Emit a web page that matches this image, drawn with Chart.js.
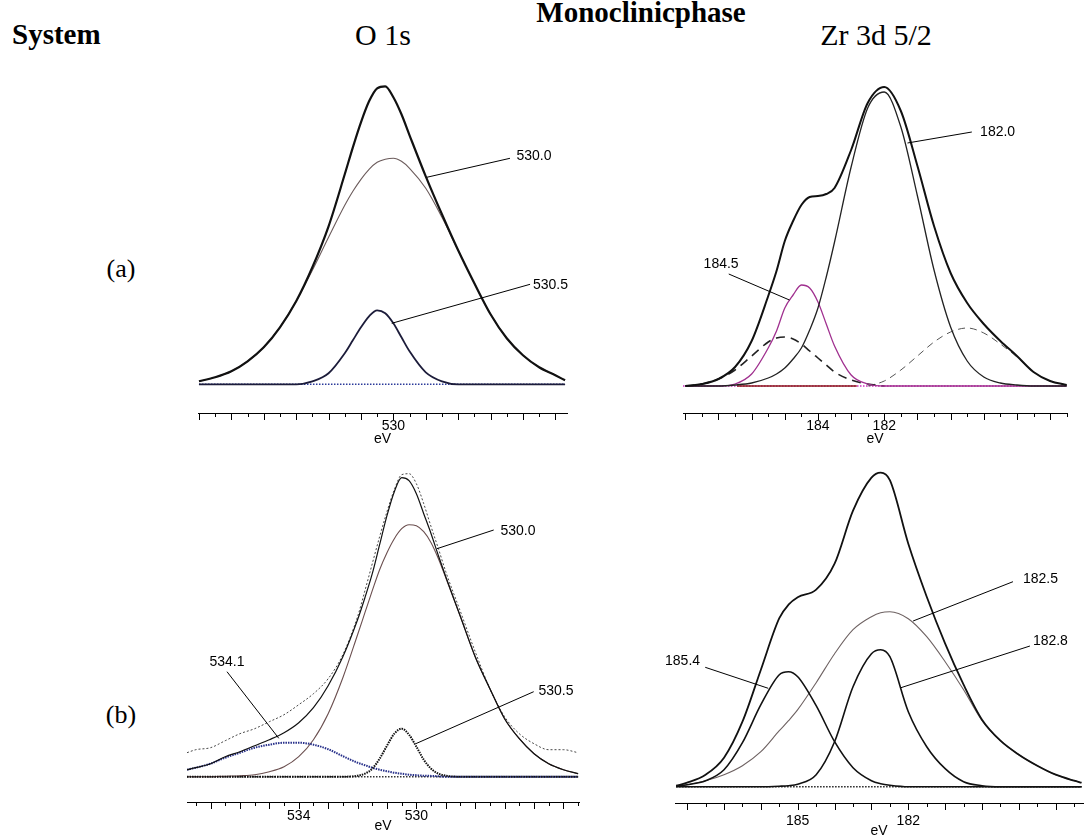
<!DOCTYPE html>
<html>
<head>
<meta charset="utf-8">
<title>XPS O 1s and Zr 3d 5/2 - monoclinic phase</title>
<script src="https://cdn.jsdelivr.net/npm/chart.js@4.4.1/dist/chart.umd.min.js"></script>
<style>
  html, body { margin: 0; padding: 0; background: #fff; overflow: hidden; }
  body { width: 1086px; height: 837px; position: relative; font-family: "Liberation Serif", "Times New Roman", serif; color: #000; }
  .lbl { position: absolute; white-space: nowrap; line-height: 1; }
  .bold { font-weight: bold; }
  .mid { transform: translateX(-50%); }
  canvas { position: absolute; }
</style>
</head>
<body>
<div class="lbl bold mid" style="left:641px; top:-2px; font-size:29px;">Monoclinicphase</div>
<div class="lbl bold" style="left:12px; top:20px; font-size:29px;">System</div>
<div class="lbl mid" style="left:383px; top:20px; font-size:30px;">O 1s</div>
<div class="lbl mid" style="left:876px; top:20px; font-size:30px;">Zr 3d 5/2</div>
<div class="lbl mid" style="left:121px; top:256px; font-size:26px;">(a)</div>
<div class="lbl mid" style="left:121px; top:702px; font-size:26px;">(b)</div>

<canvas id="o1sA" width="405" height="383" style="left:185px; top:70px;"></canvas>
<canvas id="zrA" width="410" height="383" style="left:670px; top:70px;"></canvas>
<canvas id="o1sB" width="410" height="388" style="left:180px; top:450px;"></canvas>
<canvas id="zrB" width="436" height="390" style="left:650px; top:450px;"></canvas>

<script>
// ---- (a) O 1s ----
const o1sAEnergy = [536.0, 535.5, 535.0, 534.5, 534.0, 533.5, 533.0, 532.5, 532.0, 531.5, 531.25, 531.0, 530.75, 530.5, 530.25, 530.0, 529.75, 529.5, 529.0, 528.5, 528.0, 527.5, 527.0, 526.5, 526.0, 525.5, 525.0, 524.7];
const o1sATotal    = [3, 7, 13, 23, 37, 57, 83, 117, 158, 210, 237, 262, 283, 296, 298, 287, 270, 249, 208, 170, 134, 101, 70, 46, 29, 17, 9, 4];
const o1sA5300     = [3, 7, 13, 23, 37, 57, 83, 114, 147, 179, 193, 205, 215, 222, 225, 226, 223, 216, 196, 167, 134, 101, 70, 46, 29, 17, 9, 4];
const o1sA5305     = [0, 0, 0, 0, 0, 0, 0, 3, 11, 31, 44, 57, 68, 74, 71, 61, 47, 33, 12, 3, 0, 0, 0, 0, 0, 0, 0, 0];
const o1sABaseE = [536.0, 524.7];
const o1sABase = [0, 0];
const o1sATicks = [536, 535.5, 535, 534.5, 534, 533.5, 533, 532.5, 532, 531.5, 531, 530.5, 530, 529.5, 529, 528.5, 528, 527.5, 527, 526.5, 526, 525.5, 525];
const o1sATickLabels = [530];

// ---- (a) Zr 3d 5/2 ----
const zrAEnergy = [188.0, 187.5, 187.0, 186.5, 186.0, 185.5, 185.25, 185.0, 184.75, 184.5, 184.25, 184.0, 183.75, 183.5, 183.0, 182.5, 182.0, 181.5, 181.0, 180.5, 180.0, 179.5, 179.0, 178.5, 178.0, 177.5, 177.0, 176.5];
const zrATotal = [0, 2, 7, 19, 45, 90, 115, 145, 165, 181, 189, 190, 192, 198, 236, 283, 299, 275, 220, 160, 113, 83, 62, 45, 30, 14, 5, 1];
const zrA1820  = [0, 0, 0, 1, 3, 8, 12, 18, 27, 38, 56, 78, 109, 144, 219, 278, 294, 259, 190, 116, 59, 25, 9, 3, 1, 0, 0, 0];
const zrA1845  = [0, 0, 0, 2, 12, 38, 55, 78, 91, 101, 98, 84, 62, 40, 11, 2, 0, 0, 0, 0, 0, 0, 0, 0, 0, 0, 0, 0];
const zrAHigh  = [0, 2, 7, 16, 30, 44, 48, 49, 47, 42, 35, 28, 21, 14, 6, 2, 0, null, null, null, null, null, null, null, null, null, null, null];
const zrALow   = [null, null, null, null, null, null, null, null, null, null, null, null, null, null, null, 0, 5, 16, 30, 44, 54, 58, 53, 42, 29, 14, 5, 1];
const zrABaseE = [188.07, 176.5];
const zrABase = [0, 0];
const zrABgE = [186.44, 182.83];
const zrABg = [0, 0];
const zrATicks = [188, 187.5, 187, 186.5, 186, 185.5, 185, 184.5, 184, 183.5, 183, 182.5, 182, 181.5, 181, 180.5, 180, 179.5, 179, 178.5, 178, 177.5, 177, 176.5];
const zrATickLabels = [184, 182];

// ---- (b) O 1s ----
const o1sBEnergy = [537.8, 537.5, 537.0, 536.5, 536.0, 535.5, 535.0, 534.5, 534.0, 533.5, 533.0, 532.5, 532.0, 531.75, 531.5, 531.25, 531.0, 530.75, 530.5, 530.25, 530.0, 529.75, 529.5, 529.25, 529.0, 528.5, 528.0, 527.5, 527.0, 526.5, 526.0, 525.5, 525.0, 524.5];
const o1sBRaw      = [24, 27, 29, 36, 43, 48, 55, 62, 72, 83, 98, 122, 160, 186, 213, 240, 265, 287, 302, 303, 293, 273, 250, 228, 205, 165, 125, 88, 60, 43, 33, 27, 27, 24];
const o1sBEnvelope = [7, 9, 13, 20, 25, 31, 37, 44, 54, 69, 91, 120, 157, 179, 203, 232, 261, 285, 299, 296, 283, 263, 243, 221, 200, 160, 120, 88, 58, 38, 23, 13, 7, 3];
const o1sB5300     = [0, 0, 0, 0.5, 1, 2, 5, 10, 20, 37, 63, 99, 142, 164, 186, 207, 224, 238, 248, 252, 251, 245, 234, 218, 199, 160, 120, 88, 58, 38, 23, 13, 7, 3];
const o1sB5341     = [7, 9, 13, 19, 24, 29, 32, 34, 34, 32, 27.5, 20.5, 14, 11.5, 9, 7, 5.5, 4, 3, 2, 1.5, 1, 0.8, 0.4, 0, 0, 0, 0, 0, 0, 0, 0, 0, 0];
const o1sB5305     = [0, 0, 0, 0, 0, 0, 0, 0, 0, 0, 0, 0, 1, 3, 8, 18, 31, 43, 48, 42, 30, 17, 8, 3, 1, 0, 0, 0, 0, 0, 0, 0, 0, 0];
const o1sBBaseE = [537.8, 524.5];
const o1sBBase = [0, 0];
const o1sBTicks = [537.5, 537, 536.5, 536, 535.5, 535, 534.5, 534, 533.5, 533, 532.5, 532, 531.5, 531, 530.5, 530, 529.5, 529, 528.5, 528, 527.5, 527, 526.5, 526, 525.5, 525, 524.5];
const o1sBTickLabels = [534, 530];

// ---- (b) Zr 3d 5/2 ----
const zrBEnergy = [188.3, 188.0, 187.5, 187.0, 186.5, 186.0, 185.5, 185.25, 185.0, 184.5, 184.0, 183.5, 183.0, 182.75, 182.5, 182.0, 181.5, 181.0, 180.5, 180.0, 179.5, 179.0, 178.5, 178.0, 177.5, 177.3];
const zrBTotal = [1, 4, 12, 29, 65, 117, 168.5, 182, 189.5, 197, 223, 276, 309, 314, 306.5, 243, 190, 143, 102, 67, 46, 32, 21, 12, 6, 4];
const zrB1854  = [0.5, 2, 6, 17, 44, 82, 112, 115, 110, 81, 45, 19, 6, 3, 1.5, 0, 0, 0, 0, 0, 0, 0, 0, 0, 0, 0];
const zrB1828  = [0, 0, 0, 0, 0, 0, 0.5, 1, 2.5, 12, 45, 100, 133, 137, 130, 75, 40, 18, 5, 1, 0, 0, 0, 0, 0, 0];
const zrB1825  = [0.5, 2, 6, 12, 21, 35, 56, 66, 77, 104, 133, 157, 170, 174, 175, 168, 150, 125, 97, 66, 46, 32, 21, 12, 6, 4];
const zrBBaseE = [188.3, 177.3];
const zrBBase = [0, 0];
const zrBTicks = [188, 187.5, 187, 186.5, 186, 185.5, 185, 184.5, 184, 183.5, 183, 182.5, 182, 181.5, 181, 180.5, 180, 179.5, 179, 178.5, 178, 177.5];
const zrBTickLabels = [185, 182];

const sansFont = '"Liberation Sans", Arial, sans-serif';

function pts(xs, ys) {
  return xs.map((x, i) => ({ x: x, y: ys[i] }));
}

function line(xs, ys, color, width, dash) {
  return {
    data: pts(xs, ys),
    borderColor: color,
    borderWidth: width,
    borderDash: dash || [],
    pointRadius: 0,
    fill: false,
    cubicInterpolationMode: 'monotone'
  };
}

// half-eV tick marks (long on whole eV) and the labelled leader lines
const peakNotes = {
  id: 'peakNotes',
  afterDraw(chart, args, opts) {
    const ctx = chart.ctx;
    const x = chart.scales.x, y = chart.scales.y;
    ctx.save();
    ctx.strokeStyle = '#000';
    ctx.lineWidth = 1;
    x.ticks.forEach(t => {
      const px = Math.round(x.getPixelForValue(t.value)) + 0.5;
      const len = Number.isInteger(t.value) ? 7 : 4;
      ctx.beginPath();
      ctx.moveTo(px, x.top);
      ctx.lineTo(px, x.top + len);
      ctx.stroke();
    });
    ctx.font = '14px ' + sansFont;
    ctx.fillStyle = '#000';
    ctx.textBaseline = 'middle';
    (opts.notes || []).forEach(n => {
      ctx.beginPath();
      ctx.moveTo(x.getPixelForValue(n.from[0]), y.getPixelForValue(n.from[1]));
      ctx.lineTo(x.getPixelForValue(n.to[0]), y.getPixelForValue(n.to[1]));
      ctx.stroke();
      ctx.textAlign = n.align;
      ctx.fillText(n.text, x.getPixelForValue(n.at[0]), y.getPixelForValue(n.at[1]));
    });
    ctx.restore();
  }
};

function makeChart(id, c) {
  return new Chart(document.getElementById(id), {
    type: 'line',
    data: { datasets: c.datasets },
    options: {
      responsive: false,
      animation: false,
      events: [],
      layout: { padding: { left: c.padLeft, right: c.padRight, top: 0, bottom: 0 } },
      scales: {
        x: {
          type: 'linear',
          reverse: true,
          min: c.xMin,
          max: c.xMax,
          afterBuildTicks: s => { s.ticks = c.ticks.map(v => ({ value: v })); },
          afterFit: s => { s.height = c.axisHeight; },
          grid: { display: true, drawOnChartArea: false, drawTicks: true, tickLength: 5, color: 'rgba(0,0,0,0)', tickColor: 'rgba(0,0,0,0)' },
          border: { display: true, color: '#000', width: 1 },
          ticks: {
            autoSkip: false, maxRotation: 0, minRotation: 0,
            padding: c.tickPad, color: '#000',
            font: { family: sansFont, size: 14 },
            callback: v => c.labels.includes(v) ? String(v) : ''
          },
          title: {
            display: true, text: 'eV', color: '#000',
            font: { family: sansFont, size: 14 },
            padding: { top: 0, bottom: c.titlePad }
          }
        },
        y: { display: false, min: c.yMin, max: c.yMax }
      },
      plugins: {
        legend: { display: false },
        tooltip: { enabled: false },
        peakNotes: { notes: c.notes }
      }
    },
    plugins: [peakNotes]
  });
}

makeChart('o1sA', {
  xMin: 524.64, xMax: 536.03, yMin: -28.7, yMax: 314.3,
  padLeft: 13, padRight: 23, axisHeight: 40, tickPad: 0, titlePad: 5,
  ticks: o1sATicks, labels: o1sATickLabels,
  datasets: [
    line(o1sAEnergy, o1sATotal, '#111', 2.2),
    line(o1sAEnergy, o1sA5305, '#1c1c3a', 1.8),
    line(o1sAEnergy, o1sA5300, '#6b5b5b', 1.1),
    line(o1sABaseE, o1sABase, '#2b3a9a', 1.6, [1.5, 1.5])
  ],
  notes: [
    { text: '530.0', at: [526.20, 228], align: 'left', from: [526.40, 226], to: [528.97, 207] },
    { text: '530.5', at: [525.69, 99.3], align: 'left', from: [525.78, 100], to: [530.05, 61] }
  ]
});

makeChart('zrA', {
  xMin: 176.49, xMax: 188.07, yMin: -27, yMax: 316,
  padLeft: 13, padRight: 13, axisHeight: 40, tickPad: 0, titlePad: 5,
  ticks: zrATicks, labels: zrATickLabels,
  datasets: [
    line(zrAEnergy, zrATotal, '#111', 2.0),
    line(zrAEnergy, zrA1820, '#222', 1.3),
    line(zrAEnergy, zrA1845, '#a0308f', 1.3),
    line(zrAEnergy, zrAHigh, '#222', 1.6, [9, 6]),
    line(zrAEnergy, zrALow, '#555', 1.0, [7, 5]),
    line(zrABgE, zrABg, '#8b1a1a', 1.3),
    line(zrABaseE, zrABase, '#d030c0', 1.6, [1.5, 1.5])
  ],
  notes: [
    { text: '184.5', at: [186.92, 122], align: 'center', from: [186.69, 112], to: [184.86, 86] },
    { text: '182.0', at: [179.11, 253.5], align: 'left', from: [179.36, 254], to: [181.30, 243] }
  ]
});

makeChart('o1sB', {
  xMin: 524.47, xMax: 537.8, yMin: -25.3, yMax: 326.7,
  padLeft: 7, padRight: 11, axisHeight: 36, tickPad: 1, titlePad: 3,
  ticks: o1sBTicks, labels: o1sBTickLabels,
  datasets: [
    line(o1sBEnergy, o1sBEnvelope, '#111', 1.2),
    line(o1sBEnergy, o1sBRaw, '#333', 0.9, [2, 2]),
    line(o1sBEnergy, o1sB5305, '#111', 2, [1.5, 1]),
    line(o1sBEnergy, o1sB5341, '#27308a', 2, [1.5, 1]),
    line(o1sBEnergy, o1sB5300, '#6b4f4f', 1.1),
    line(o1sBBaseE, o1sBBase, '#333', 1.6, [1.5, 1.5])
  ],
  notes: [
    { text: '530.0', at: [527.14, 245.7], align: 'left', from: [527.37, 246.7], to: [529.30, 228] },
    { text: '530.5', at: [525.85, 85.7], align: 'left', from: [526.01, 85], to: [530.02, 33] },
    { text: '534.1', at: [536.44, 114.7], align: 'center', from: [536.44, 105], to: [534.68, 38.4] }
  ]
});

makeChart('zrB', {
  xMin: 177.26, xMax: 188.33, yMin: -16.3, yMax: 336.7,
  padLeft: 25, padRight: 3, axisHeight: 37, tickPad: 5, titlePad: 0,
  ticks: zrBTicks, labels: zrBTickLabels,
  datasets: [
    line(zrBEnergy, zrBTotal, '#111', 1.8),
    line(zrBEnergy, zrB1854, '#111', 1.6),
    line(zrBEnergy, zrB1828, '#111', 1.6),
    line(zrBEnergy, zrB1825, '#6e6262', 1.1),
    line(zrBBaseE, zrBBase, '#222', 1.6, [1.5, 1.5])
  ],
  notes: [
    { text: '182.5', at: [178.89, 207.7], align: 'left', from: [179.16, 205], to: [181.87, 165.7] },
    { text: '182.8', at: [178.62, 145.7], align: 'left', from: [178.70, 140.7], to: [182.2, 99] },
    { text: '185.4', at: [187.65, 125.7], align: 'right', from: [187.51, 119.4], to: [185.80, 98.4] }
  ]
});
</script>
</body>
</html>
